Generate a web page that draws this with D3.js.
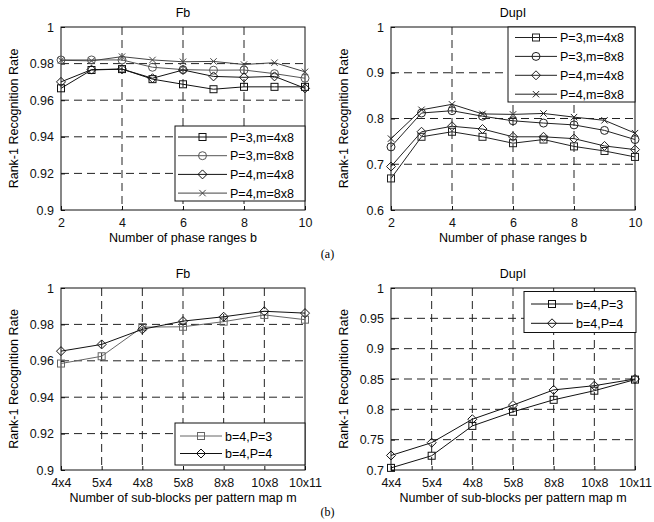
<!DOCTYPE html>
<html>
<head>
<meta charset="utf-8">
<script src="https://cdn.jsdelivr.net/npm/d3@7"></script>
<style>
  body { margin: 0; background: #fff; }
  svg { font-family: Arial, "Liberation Sans", sans-serif; }
</style>
</head>
<body>
<svg id="chart" width="654" height="522"></svg>
<script>
// ---- data ----
var phaseB = [2, 3, 4, 5, 6, 7, 8, 9, 10];
var phaseTicks = [2, 4, 6, 8, 10];
var blockCats = ["4x4", "5x4", "4x8", "5x8", "8x8", "10x8", "10x11"];

var seriesNamesA = ["P=3,m=4x8", "P=3,m=8x8", "P=4,m=4x8", "P=4,m=8x8"];
var seriesNamesB = ["b=4,P=3", "b=4,P=4"];

// (a) Fb
var fbP3m4x8 = [0.9665, 0.9765, 0.977, 0.9715, 0.9687, 0.966, 0.9673, 0.9673, 0.9673];
var fbP3m8x8 = [0.982, 0.982, 0.982, 0.978, 0.9767, 0.9764, 0.9765, 0.9745, 0.972];
var fbP4m4x8 = [0.970, 0.9767, 0.977, 0.972, 0.9765, 0.973, 0.9725, 0.973, 0.9665];
var fbP4m8x8 = [0.9818, 0.9815, 0.9838, 0.982, 0.981, 0.9812, 0.9795, 0.9805, 0.9755];
// (a) DupI
var dupP3m4x8 = [0.669, 0.760, 0.771, 0.760, 0.746, 0.754, 0.739, 0.729, 0.716];
var dupP3m8x8 = [0.738, 0.812, 0.817, 0.805, 0.795, 0.790, 0.786, 0.774, 0.754];
var dupP4m4x8 = [0.695, 0.771, 0.783, 0.777, 0.760, 0.760, 0.756, 0.740, 0.732];
var dupP4m8x8 = [0.756, 0.819, 0.831, 0.810, 0.809, 0.811, 0.803, 0.796, 0.768];
// (b) Fb
var fbB4P3 = [0.9585, 0.9625, 0.9785, 0.9787, 0.9815, 0.9852, 0.9826];
var fbB4P4 = [0.9653, 0.969, 0.9773, 0.9818, 0.9842, 0.9872, 0.9862];
// (b) DupI
var dupB4P3 = [0.7035, 0.7235, 0.7727, 0.796, 0.8157, 0.8307, 0.849];
var dupB4P4 = [0.724, 0.745, 0.7837, 0.807, 0.832, 0.839, 0.850];

var svg = d3.select("#chart");

function marker(g, type, x, y, color) {
  var s = 3.5;
  if (type == "square") {
    g.append("rect").attr("x", x - s).attr("y", y - s).attr("width", 2 * s).attr("height", 2 * s)
      .attr("fill", "none").attr("stroke", color);
  } else if (type == "circle") {
    g.append("circle").attr("cx", x).attr("cy", y).attr("r", 4)
      .attr("fill", "none").attr("stroke", color);
  } else if (type == "diamond") {
    var d = 4.5;
    g.append("path").attr("d", "M" + x + "," + (y - d) + "L" + (x + d) + "," + y + "L" + x + "," + (y + d) + "L" + (x - d) + "," + y + "Z")
      .attr("fill", "none").attr("stroke", color);
  } else {
    var c = 3.2;
    g.append("path").attr("d", "M" + (x - c) + "," + (y - c) + "L" + (x + c) + "," + (y + c) + "M" + (x - c) + "," + (y + c) + "L" + (x + c) + "," + (y - c))
      .attr("fill", "none").attr("stroke", color);
  }
}

function drawPanel(p) {
  var g = svg.append("g");
  var x;
  if (p.cats) {
    x = d3.scalePoint().domain(p.cats).range([p.left, p.right]);
  } else {
    x = d3.scaleLinear().domain([p.xTicks[0], p.xTicks[p.xTicks.length - 1]]).range([p.left, p.right]);
  }
  var y = d3.scaleLinear().domain(p.yDomain).range([p.bottom, p.top]);
  var xt = p.cats ? p.cats : p.xTicks;

  // grid
  g.selectAll(".gx").data(xt.slice(1, -1)).enter().append("line")
    .attr("x1", function(d) { return x(d); }).attr("x2", function(d) { return x(d); })
    .attr("y1", p.top).attr("y2", p.bottom)
    .attr("stroke", "#222").attr("stroke-dasharray", "8,5");
  g.selectAll(".gy").data(p.yTicks.slice(1, -1)).enter().append("line")
    .attr("x1", p.left).attr("x2", p.right)
    .attr("y1", function(d) { return y(d); }).attr("y2", function(d) { return y(d); })
    .attr("stroke", "#222").attr("stroke-dasharray", "8,5");

  // axes with inward ticks
  var xAxis = p.cats ? d3.axisBottom(x) : d3.axisBottom(x).tickValues(p.xTicks).tickFormat(d3.format("d"));
  var gx = g.append("g").attr("transform", "translate(0," + p.bottom + ")")
    .call(xAxis.tickSizeInner(-4).tickSizeOuter(0).tickPadding(8));
  var gy = g.append("g").attr("transform", "translate(" + p.left + ",0)")
    .call(d3.axisLeft(y).tickValues(p.yTicks).tickFormat(function(d) { return d3.format("")(+d.toFixed(3)); })
      .tickSizeInner(-4).tickSizeOuter(0).tickPadding(7));
  [gx, gy].forEach(function(a) {
    a.select(".domain").remove();
    a.selectAll("text").attr("font-size", "12.5px").attr("fill", "#111").attr("font-family", "Arial, 'Liberation Sans', sans-serif");
    a.selectAll("line").attr("stroke", "#111");
  });

  // box
  g.append("rect").attr("x", p.left).attr("y", p.top).attr("width", p.right - p.left).attr("height", p.bottom - p.top)
    .attr("fill", "none").attr("stroke", "#111");

  // series
  var xs = p.cats ? p.cats : phaseB;
  p.series.forEach(function(s) {
    var line = d3.line().x(function(d, i) { return x(xs[i]); }).y(function(d) { return y(d); });
    g.append("path").datum(s.values).attr("d", line).attr("fill", "none").attr("stroke", s.color).attr("stroke-width", 1);
    s.values.forEach(function(v, i) { marker(g, s.marker, x(xs[i]), y(v), s.color); });
  });

  // title and labels
  g.append("text").attr("x", (p.left + p.right) / 2).attr("y", p.top - 10).attr("text-anchor", "middle")
    .attr("font-size", "12.5px").text(p.title);
  g.append("text").attr("x", (p.left + p.right) / 2).attr("y", p.bottom + 32).attr("text-anchor", "middle")
    .attr("font-size", "12.5px").text(p.xLabel);
  g.append("text").attr("transform", "translate(" + (p.left - 43) + "," + ((p.top + p.bottom) / 2) + ") rotate(-90)")
    .attr("text-anchor", "middle").attr("font-size", "12.5px").text("Rank-1 Recognition Rate");

  // legend
  var L = p.legend;
  g.append("rect").attr("x", L.x).attr("y", L.y).attr("width", L.w).attr("height", L.h)
    .attr("fill", "#fff").attr("stroke", "#111");
  p.series.forEach(function(s, i) {
    var ly = L.y + L.first + i * L.step;
    g.append("line").attr("x1", L.x + L.pad).attr("x2", L.x + L.pad + L.len).attr("y1", ly).attr("y2", ly)
      .attr("stroke", s.color);
    marker(g, s.marker, L.x + L.pad + L.len / 2, ly, s.color);
    g.append("text").attr("x", L.x + L.pad + L.len + 3).attr("y", ly + 4.5).attr("font-size", "12.5px").text(s.name);
  });
}

var markersA = ["square", "circle", "diamond", "cross"];

drawPanel({
  left: 61, right: 305, top: 27, bottom: 210,
  xTicks: phaseTicks, yDomain: [0.9, 1], yTicks: [0.9, 0.92, 0.94, 0.96, 0.98, 1],
  title: "Fb", xLabel: "Number of phase ranges b",
  series: [fbP3m4x8, fbP3m8x8, fbP4m4x8, fbP4m8x8].map(function(v, i) {
    return { values: v, name: seriesNamesA[i], marker: markersA[i], color: ["#111", "#555", "#111", "#444"][i] };
  }),
  legend: { x: 175, y: 126, w: 130, h: 75, first: 11, step: 18.7, pad: 3, len: 49 }
});

drawPanel({
  left: 391, right: 635, top: 27, bottom: 210,
  xTicks: phaseTicks, yDomain: [0.6, 1], yTicks: [0.6, 0.7, 0.8, 0.9, 1],
  title: "DupI", xLabel: "Number of phase ranges b",
  series: [dupP3m4x8, dupP3m8x8, dupP4m4x8, dupP4m8x8].map(function(v, i) {
    return { values: v, name: seriesNamesA[i], marker: markersA[i], color: "#222" };
  }),
  legend: { x: 508, y: 27, w: 127, h: 75, first: 10.5, step: 18.9, pad: 7, len: 42 }
});

drawPanel({
  left: 61, right: 305, top: 288, bottom: 470,
  cats: blockCats, yDomain: [0.9, 1], yTicks: [0.9, 0.92, 0.94, 0.96, 0.98, 1],
  title: "Fb", xLabel: "Number of sub-blocks per pattern map m",
  series: [fbB4P3, fbB4P4].map(function(v, i) {
    return { values: v, name: seriesNamesB[i], marker: ["square", "diamond"][i], color: ["#666", "#111"][i] };
  }),
  legend: { x: 175, y: 423, w: 130, h: 42, first: 13, step: 17.5, pad: 5, len: 42 }
});

drawPanel({
  left: 391, right: 635, top: 288, bottom: 470,
  cats: blockCats, yDomain: [0.7, 1], yTicks: [0.7, 0.75, 0.8, 0.85, 0.9, 0.95, 1],
  title: "DupI", xLabel: "Number of sub-blocks per pattern map m",
  series: [dupB4P3, dupB4P4].map(function(v, i) {
    return { values: v, name: seriesNamesB[i], marker: ["square", "diamond"][i], color: "#111" };
  }),
  legend: { x: 524, y: 291.5, w: 112, h: 41, first: 12.5, step: 19.3, pad: 7, len: 42 }
});

// sub-figure labels
svg.append("text").attr("x", 327.5).attr("y", 258).attr("text-anchor", "middle")
  .attr("font-family", "'Liberation Serif', 'Times New Roman', serif").attr("font-size", "12px").text("(a)");
svg.append("text").attr("x", 327.5).attr("y", 516).attr("text-anchor", "middle")
  .attr("font-family", "'Liberation Serif', 'Times New Roman', serif").attr("font-size", "12px").text("(b)");
</script>
</body>
</html>
